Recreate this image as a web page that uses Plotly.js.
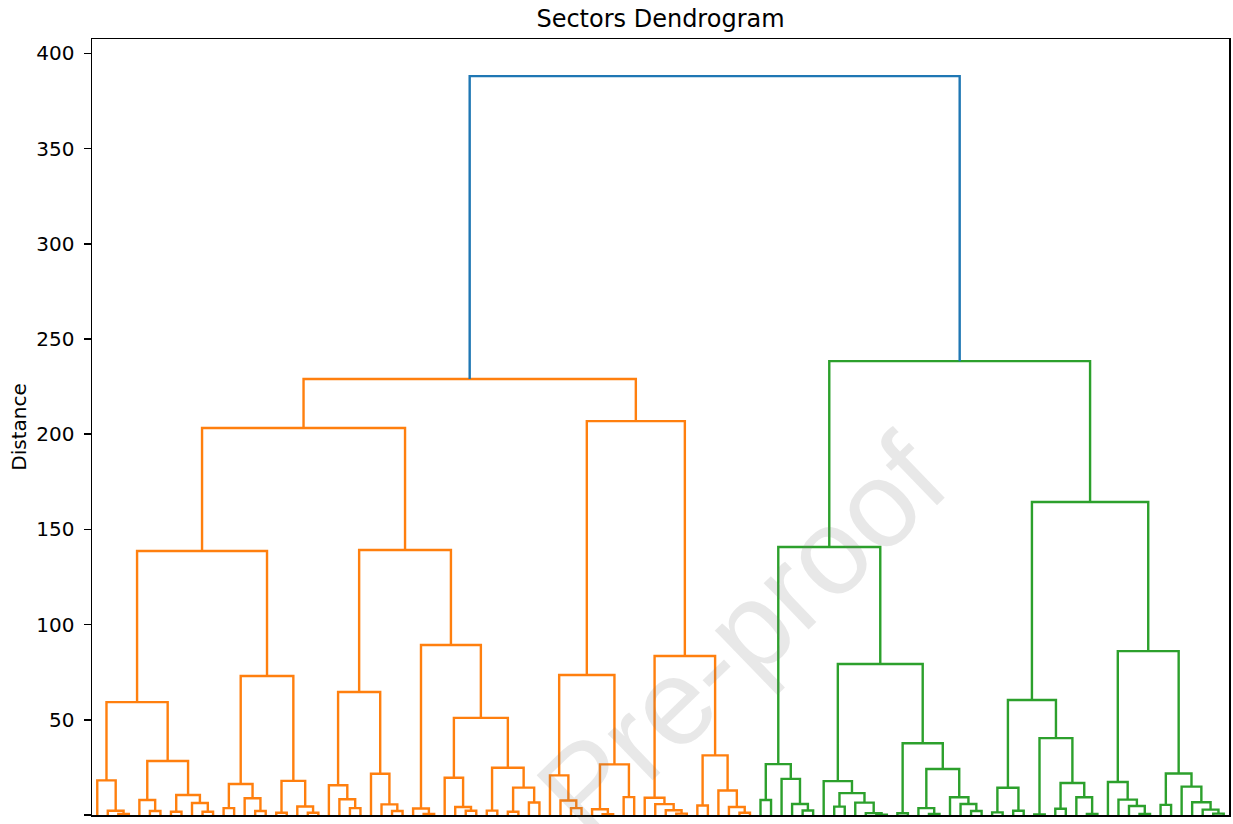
<!DOCTYPE html>
<html>
<head>
<meta charset="utf-8">
<script src="https://cdn.plot.ly/plotly-3.0.1.min.js"></script>
<style>
  html, body { margin: 0; padding: 0; background: #ffffff; }
  #chart { width: 1233px; height: 824px; }
</style>
</head>
<body>
<div id="chart"></div>
<script>
// Hierarchical clustering of sectors.
// A leaf is L; every merge is [distance, leftBranch, rightBranch].
const L = 0;

// ---- first cluster (orange) ----
const clusterA1a = [18.2, L, [2.2, L, [0.6, L, L]]];
const clusterA1b = [28.4, [7.9, L, [2.1, L, L]], [10.5, [1.7, L, L], [6.3, L, [1.7, L, L]]]];
const clusterA2a = [16.3, [3.6, L, L], [8.8, L, [2.1, L, L]]];
const clusterA2b = [17.9, [1.2, L, L], [4.5, L, [1.2, L, L]]];
const clusterB1a = [15.6, L, [8.3, L, [3.6, L, L]]];
const clusterB1b = [21.7, L, [5.6, L, [2.1, L, L]]];
const clusterB2a = [3.4, L, [0.6, L, L]];
const clusterB2b1 = [19.6, L, [4.2, L, [2.2, L, L]]];
const clusterB2b2 = [24.8, [2.3, L, L], [14.4, [1.7, L, L], [6.6, L, L]]];
const clusterC1a = [20.8, L, [7.6, L, [3.6, L, L]]];
const clusterC1b = [26.6, [3.0, L, [0.4, L, L]], [9.4, L, L]];
const clusterC2a = [9.1, L, [5.7, L, [2.5, L, [0.7, L, L]]]];
const clusterC2b = [31.3, [5.0, L, L], [12.9, L, [4.2, L, [1.2, L, L]]]];

// ---- second cluster (green) ----
const clusterD1 = [26.7, [7.9, L, L], [19.0, L, [5.8, L, [2.4, L, L]]]];
const clusterD2a = [17.8, L, [11.5, [4.4, L, L], [6.5, L, [1.0, L, [0.2, L, L]]]]];
const clusterD2b = [37.7, [0.9, L, L], [24.2, [3.6, L, [0.6, L, L]], [9.3, L, [5.8, L, [2.1, L, L]]]]];
const clusterE1a = [14.3, [1.4, L, L], [2.2, L, L]];
const clusterE1b = [40.4, [0.3, L, L], [16.8, [3.3, L, L], [9.3, L, [0.6, L, L]]]];
const clusterE2a = [17.3, L, [8.1, L, [4.7, L, [0.5, L, L]]]];
const clusterE2b = [21.8, [5.3, L, L], [14.9, L, [6.7, L, [2.8, L, [0.7, L, L]]]]];

// upper merges
const orangeTree = [229.0,
  [203.3, [138.7, [59.3, clusterA1a, clusterA1b], [73.0, clusterA2a, clusterA2b]],
          [139.2, [64.6, clusterB1a, clusterB1b], [89.3, clusterB2a, [51.0, clusterB2b1, clusterB2b2]]]],
  [206.9, [73.5, clusterC1a, clusterC1b], [83.5, clusterC2a, clusterC2b]]];

const greenTree = [238.4,
  [140.8, clusterD1, [79.3, clusterD2a, clusterD2b]],
  [164.4, [60.4, clusterE1a, clusterE1b], [86.1, clusterE2a, clusterE2b]]];

const rootDistance = 388.1;

const linkColors = { first: '#ff7f0e', second: '#2ca02c', above: '#1f77b4' };

// ---- dendrogram geometry (leaves at 5, 15, 25, ...) ----
let leafIndex = 0;
function walk(node, links) {
  if (node === L) {
    const x = 5 + 10 * leafIndex;
    leafIndex += 1;
    return { x: x, y: 0 };
  }
  const a = walk(node[1], links);
  const b = walk(node[2], links);
  const h = node[0];
  links.push([a.x, a.y, b.x, b.y, h]);
  return { x: (a.x + b.x) / 2, y: h };
}

function toTrace(links, color) {
  const xs = [], ys = [];
  links.forEach(function (k) {
    xs.push(k[0], k[0], k[2], k[2], null);
    ys.push(k[1], k[4], k[4], k[3], null);
  });
  return {
    type: 'scatter', mode: 'lines', x: xs, y: ys,
    line: { color: color, width: 2.4 }, hoverinfo: 'skip', showlegend: false
  };
}

const firstLinks = [], secondLinks = [];
const topFirst = walk(orangeTree, firstLinks);
const topSecond = walk(greenTree, secondLinks);
const rootLinks = [[topFirst.x, topFirst.y, topSecond.x, topSecond.y, rootDistance]];
const nLeaves = leafIndex;

const traces = [
  toTrace(firstLinks, linkColors.first),
  toTrace(secondLinks, linkColors.second),
  toTrace(rootLinks, linkColors.above)
];

const font = 'DejaVu Sans, Verdana, sans-serif';

const layout = {
  width: 1233, height: 824,
  margin: { l: 92, r: 4, t: 39, b: 9 },
  paper_bgcolor: '#ffffff', plot_bgcolor: '#ffffff',
  font: { family: font, color: '#000000', size: 20 },
  title: {
    text: 'Sectors Dendrogram',
    font: { family: font, size: 24, color: '#000000' },
    x: 0.5, xref: 'paper', xanchor: 'center',
    y: 0.978, yref: 'container', yanchor: 'middle'
  },
  xaxis: {
    range: [0, 10 * nLeaves],
    showgrid: false, zeroline: false, showticklabels: false, ticks: '',
    showline: true, mirror: true, linecolor: '#000000', linewidth: 1.5
  },
  yaxis: {
    range: [0, 407.6],
    tickvals: [0, 50, 100, 150, 200, 250, 300, 350, 400],
    ticks: 'outside', ticklen: 7, tickwidth: 1.5, tickcolor: '#000000',
    ticklabelstandoff: 5,
    tickfont: { family: font, size: 20, color: '#000000' },
    showgrid: false, zeroline: false,
    showline: true, mirror: true, linecolor: '#000000', linewidth: 1.5,
    title: { text: 'Distance', font: { family: font, size: 20, color: '#000000' }, standoff: 4 }
  },
  annotations: [{
    text: 'Pre-proof', showarrow: false,
    xref: 'paper', yref: 'paper', x: 0.572, y: 0.232,
    xanchor: 'center', yanchor: 'middle', textangle: -44,
    font: { family: 'Liberation Sans, Arial, sans-serif', size: 122, color: 'rgba(120,120,120,0.17)' }
  }]
};

Plotly.newPlot('chart', traces, layout, { staticPlot: true, displayModeBar: false });
</script>
</body>
</html>
